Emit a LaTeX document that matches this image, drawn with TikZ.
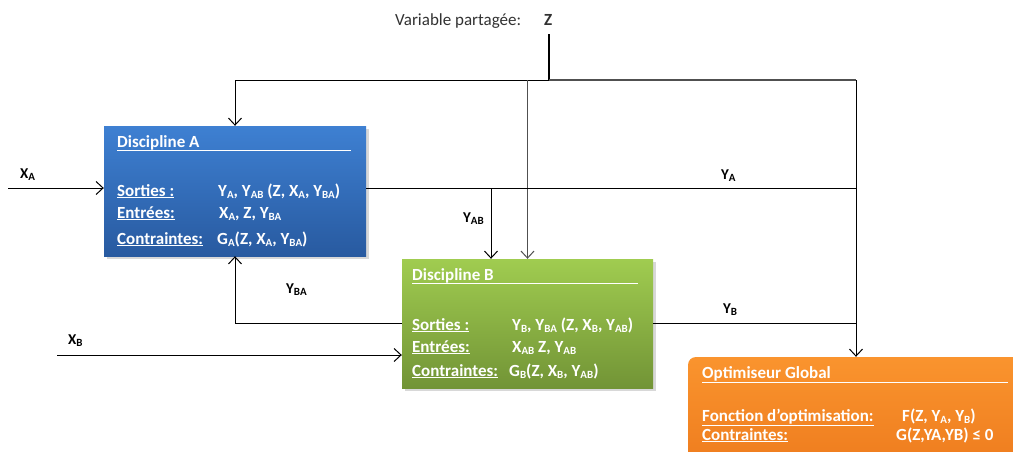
\documentclass[tikz,border=0pt]{standalone}
\usepackage{fontspec}
\setmainfont{Carlito}
\usetikzlibrary{arrows.meta,shadows,calc}
\definecolor{blueTop}{RGB}{62,128,210}
\definecolor{blueBot}{RGB}{40,90,160}
\definecolor{greenTop}{RGB}{160,204,80}
\definecolor{greenBot}{RGB}{114,148,54}
\definecolor{orangeTop}{RGB}{250,148,46}
\definecolor{orangeBot}{RGB}{238,124,30}
\definecolor{lineGray}{RGB}{80,80,80}
\definecolor{textGray}{RGB}{50,50,50}
\newcommand\lo[1]{\raisebox{-0.3ex}{\fontsize{11}{11}\selectfont #1}}
\begin{document}
\begin{tikzpicture}[x=1pt,y=-1pt,
  box/.style={rectangle, inner sep=0, draw=none,
    drop shadow={opacity=0.3, shadow xshift=2.5pt, shadow yshift=-2.5pt}},
  boxtxt/.style={font=\fontsize{17}{17}\selectfont\bfseries, text=white, anchor=base west, inner sep=0},
  outlbl/.style={font=\fontsize{15}{15}\selectfont\bfseries, anchor=base west, inner sep=0},
  conn/.style={line width=1pt, black},
  arr/.style={conn, -{Straight Barb[length=7pt,width=13pt,line width=1pt]}},
  uline/.style={white, line width=0.9pt}]
\clip (0,0) rectangle (1013,451);
\fill[white] (0,0) rectangle (1013,451);

% boxes
\node[box, minimum width=262pt, minimum height=130pt, top color=blueTop, bottom color=blueBot] (A) at (235,191) {};
\node[box, minimum width=251pt, minimum height=129pt, top color=greenTop, bottom color=greenBot] (B) at (527.5,323.5) {};
\node[box, rounded corners=8pt, minimum width=336pt, minimum height=110pt, top color=orangeTop, bottom color=orangeBot] (O) at (856,412) {};

% box A text
\node[boxtxt] (Atitle) at (117,147) {Discipline A};
\draw[uline] (117,150) -- (351,150);
\node[boxtxt] (As) at (117,196) {\underline{Sorties :}};
\node[boxtxt] (Ae) at (117,218) {\underline{Entrées:}};
\node[boxtxt] (Ac) at (117,244) {\underline{Contraintes:}};
\node[boxtxt] (Asv) at (218,196) {Y\lo{A}, Y\lo{AB} (Z, X\lo{A}, Y\lo{BA})};
\node[boxtxt] (Aev) at (219,218) {X\lo{A}, Z, Y\lo{BA}};
\node[boxtxt] (Acv) at (217,244) {G\lo{A}(Z, X\lo{A}, Y\lo{BA})};

% box B text
\node[boxtxt] (Btitle) at (412,280) {Discipline B};
\draw[uline] (412,283) -- (638,283);
\node[boxtxt] (Bs) at (412,330) {\underline{Sorties :}};
\node[boxtxt] (Be) at (412,352) {\underline{Entrées:}};
\node[boxtxt] (Bc) at (412,376) {\underline{Contraintes:}};
\node[boxtxt] (Bsv) at (512,330) {Y\lo{B}, Y\lo{BA} (Z, X\lo{B}, Y\lo{AB})};
\node[boxtxt] (Bev) at (512,352) {X\lo{AB} Z, Y\lo{AB}};
\node[boxtxt] (Bcv) at (509,376) {G\lo{B}(Z, X\lo{B}, Y\lo{AB})};

% optimiser text
\node[boxtxt] (Otitle) at (702,378) {Optimiseur Global};
\draw[uline] (702,382) -- (1008,382);
\node[boxtxt] (Of) at (702,421) {\underline{Fonction d’optimisation:}};
\node[boxtxt] (Oc) at (702,440) {\underline{Contraintes:}};
\node[boxtxt] (Ofv) at (902,421) {F(Z, Y\lo{A}, Y\lo{B})};
\node[boxtxt] (Ocv) at (896,440) {G(Z,YA,YB) ≤ 0};

% shared variable
\node[anchor=base west, inner sep=0, text=textGray, font=\fontsize{17}{17}\selectfont] (var) at (395,25) {Variable partagée:};
\node[anchor=base west, inner sep=0, font=\fontsize{17}{17}\selectfont\bfseries, text=textGray] (Z) at (544,25) {Z};

% coordinates
\coordinate (zt) at (549,34);
\coordinate (zj) at (549,80);
\coordinate (tr) at (856,80);
\coordinate (xa) at (8,188);
\coordinate (ya) at (856,188);
\coordinate (yab) at (491,188);
\coordinate (xb) at (57,355);

% connectors
\draw[conn, line width=1.3pt] (zt) -- (zj);
\draw[arr] (zj) -| (A.north);
\draw[conn, lineGray, line width=1.2pt] (zj) -- (tr);
\draw[arr, lineGray, line width=1.5pt] (B.north |- zj) -- (B.north);
\draw[arr] (tr) -- (O.north);
\draw[arr] (xa) -- (A.west |- xa);
\draw[conn] (A.east |- xa) -- (ya);
\draw[arr] (yab) -- (yab |- B.north);
\draw[arr] (B.west) -| (A.south);
\draw[arr] (xb) -- (B.west |- xb);
\draw[conn] (B.east) -- (B.east -| O.north);

% connector labels
\node[outlbl] (lxa) at (20,178) {X\lo{A}};
\node[outlbl] (lyab) at (463,222) {Y\lo{AB}};
\node[outlbl] (lyba) at (286,293) {Y\lo{BA}};
\node[outlbl] (lya) at (721,179) {Y\lo{A}};
\node[outlbl] (lyb) at (723,313) {Y\lo{B}};
\node[outlbl] (lxb) at (68,344) {X\lo{B}};
\end{tikzpicture}
\end{document}
